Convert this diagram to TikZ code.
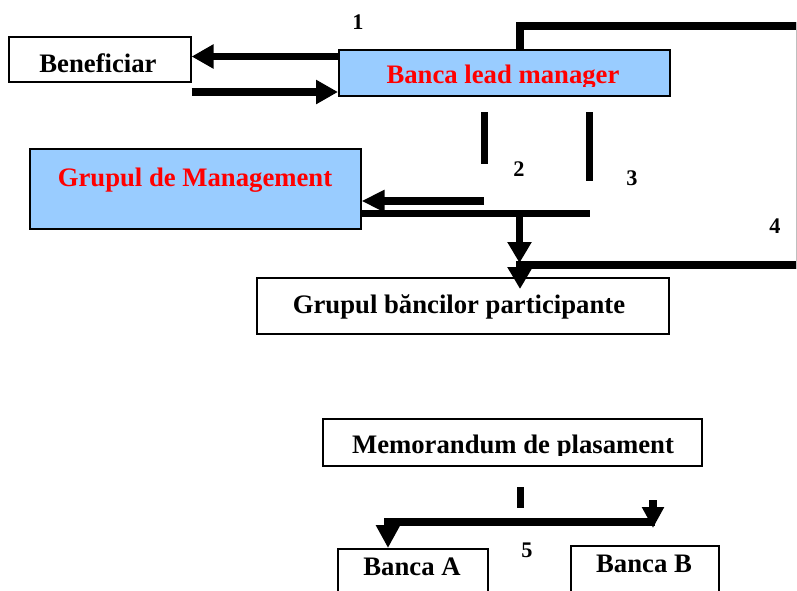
\documentclass[tikz,border=0pt]{standalone}
\usepackage{fontspec}
\setmainfont{Liberation Serif}
\usetikzlibrary{arrows.meta}
\definecolor{boxblue}{HTML}{99CCFF}
\definecolor{txtred}{HTML}{FF0000}
\begin{document}
\begin{tikzpicture}[x=1pt,y=-1pt,
  box/.style={draw, line width=1.6pt, inner sep=0pt, anchor=north west},
  bluebox/.style={box, fill=boxblue},
  txt/.style={anchor=base, inner sep=0pt, font=\bfseries\fontsize{26.7}{30}\selectfont},
  num/.style={anchor=center, inner sep=0pt, font=\bfseries\fontsize{22.3}{25}\selectfont},
  fatline/.style={line width=7.5pt},
  fatarrow/.style={fatline, -{Triangle[length=22pt,width=23pt]}}]
\useasboundingbox (0,0) rectangle (797,590);
\clip (0,0) rectangle (797,590);

% boxes
\node[box, minimum width=182pt, minimum height=45pt] (benef) at (8,36) {};
\node[bluebox, minimum width=331pt, minimum height=46pt] (lead) at (338,49) {};
\node[bluebox, minimum width=331pt, minimum height=80pt] (mgmt) at (29,148) {};
\node[box, minimum width=412pt, minimum height=56pt] (bancpart) at (256,277) {};
\node[box, minimum width=379pt, minimum height=47pt] (memo) at (322,418) {};
\node[box, minimum width=150pt, minimum height=70pt] (bancaA) at (337,548) {};
\node[box, minimum width=148pt, minimum height=70pt] (bancaB) at (570,545) {};

% box texts
\node[txt] (benef-t) at (98,72) {Beneficiar};
\begin{scope}
  \clip (lead.north west) rectangle (lead.east |- 0,86);
  \node[txt, text=txtred] (lead-t) at (503,83) {Banca lead manager};
\end{scope}
\node[txt, text=txtred] (mgmt-t) at (195,186) {Grupul de Management};
\node[txt] (bancpart-t) at (459,313) {Grupul băncilor participante};
\begin{scope}
  \clip (memo.north west) rectangle (memo.east |- 0,455);
  \node[txt] (memo-t) at (513,453) {Memorandum de plasament};
\end{scope}
\node[txt] (bancaA-t) at (412,575) {Banca A};
\node[txt] (bancaB-t) at (644,572) {Banca B};

% step numbers
\node[num] (n1) at (358,22) {1};
\node[num] (n2) at (519,169) {2};
\node[num] (n3) at (632,178) {3};
\node[num] (n4) at (775,226) {4};
\node[num] (n5) at (527,550) {5};

% 1: lead manager <-> beneficiary
\draw[fatarrow] (lead.west |- 0,56.5) -- (benef.east |- 0,56.5);
\draw[fatarrow] (benef.east |- 0,92) -- (lead.west |- 0,92);

% 2 and 3: stubs under the lead manager, bar towards the management group
\draw[fatline] (484.5,112) -- (484.5,164);
\draw[fatline] (589.5,112) -- (589.5,181);
\draw[fatline] (mgmt.east |- 0,213.5) -- (589.5,213.5);
\draw[fatline, -{Triangle[length=23pt,width=21pt]}] (484,201) -- (mgmt.east |- 0,201);
\draw[fatline, -{Triangle[length=21pt,width=23pt]}] (519.5,213.5) -- (519.5,263);

% 4: loop from the lead manager round to the participating banks
\coordinate (loopend) at (520,289);
\draw[fatline, -{Triangle[length=22pt,width=24pt]}]
  (lead.north -| 520,0) |- (800.5,26) |- (520,265) -- (loopend);
\draw[black!25, line width=0.8pt] (796.5,22) -- (796.5,269);

% 5: placement memorandum to banks A and B
\draw[fatline] (520.5,487) -- (520.5,508);
\draw[fatline, -{Triangle[length=23pt,width=23pt]}] (655,522) -| (bancaA.north -| 388,0);
\draw[fatline, -{Triangle[length=21pt,width=21pt]}] (653,500) -- (653,528);
\end{tikzpicture}
\end{document}
